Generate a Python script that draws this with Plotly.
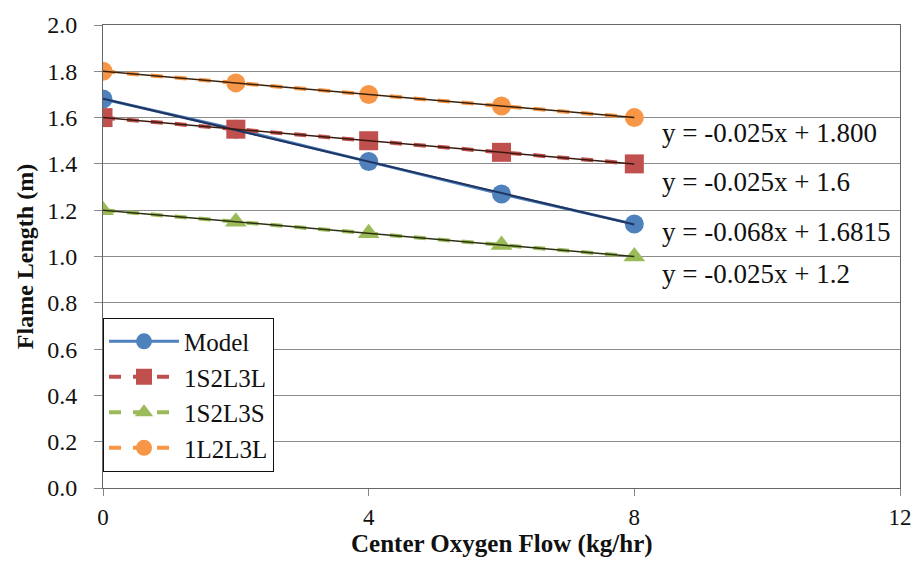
import numpy as np
import plotly.graph_objects as go

x_vals = [0, 2, 4, 6, 8]
model = [1.68, 1.55, 1.41, 1.27, 1.14]
s1S2L3L = [1.60, 1.55, 1.50, 1.45, 1.40]
s1S2L3S = [1.20, 1.15, 1.10, 1.05, 1.00]
s1L2L3L = [1.80, 1.75, 1.70, 1.65, 1.60]

series_names = ["Model", "1S2L3L", "1S2L3S", "1L2L3L"]
eq_labels = ["y = -0.025x + 1.800", "y = -0.025x + 1.6", "y = -0.068x + 1.6815", "y = -0.025x + 1.2"]
eq_y = [1.535, 1.32, 1.108, 0.925]
y_ticks = [0.0, 0.2, 0.4, 0.6, 0.8, 1.0, 1.2, 1.4, 1.6, 1.8, 2.0]
x_ticks = [0, 4, 8, 12]

FONT = "Liberation Serif"

fig = go.Figure()

styles = [
    (model, "#4F81BD", "circle", "solid", "#4F81BD", 3),
    (s1S2L3L, "#C0504D", "square", "dash", "#C0504D", 4),
    (s1S2L3S, "#9BBB59", "triangle-up", "dash", "#9BBB59", 4),
    (s1L2L3L, "#F79646", "circle", "dash", "#F79646", 4),
]

for name, (ys, mcol, sym, dash, lcol, lw) in zip(series_names, styles):
    fig.add_trace(go.Scatter(
        x=x_vals, y=ys, name=name, mode="lines+markers",
        line=dict(color=lcol, width=lw, dash=dash),
        marker=dict(symbol=sym, size=19, color=mcol),
    ))

# linear trendlines (dark) fitted from the data
trend_cols = ["#1F3460", "#3a1a10", "#2a3010", "#3a2008"]
for ys, tc in zip([model, s1S2L3L, s1S2L3S, s1L2L3L], trend_cols):
    k, b = np.polyfit(x_vals, ys, 1)
    xs = np.array([x_vals[0], x_vals[-1]])
    fig.add_trace(go.Scatter(
        x=xs, y=k * xs + b, mode="lines", showlegend=False, hoverinfo="skip",
        line=dict(color=tc, width=2 if tc == "#1F3460" else 1.5),
    ))

for lab, yy in zip(eq_labels, eq_y):
    fig.add_annotation(x=8.38, y=yy, text=lab, showarrow=False, xanchor="left",
                       yanchor="middle", font=dict(family=FONT, size=27, color="#111"))

# x-axis title placed close under the tick labels
fig.add_annotation(xref="paper", yref="paper", x=0.5, y=-0.122, xanchor="center", yanchor="middle",
                   text="<b>Center Oxygen Flow (kg/hr)</b>", showarrow=False,
                   font=dict(family=FONT, size=25, color="#111"))

fig.update_layout(
    width=924, height=567,
    margin=dict(l=103, r=17, t=19, b=79),
    paper_bgcolor="white", plot_bgcolor="white",
    font=dict(family=FONT, size=23, color="#111"),
    legend=dict(x=0.0, y=0.368, xanchor="left", yanchor="top",
                bgcolor="white", bordercolor="#111", borderwidth=1,
                font=dict(family=FONT, size=25), itemwidth=70,
                tracegroupgap=0),
    xaxis=dict(range=[0, 12], tickvals=x_ticks, showgrid=False, zeroline=False,
               showline=True, linecolor="#666", linewidth=1, mirror=True,
               ticks="outside", ticklen=7, tickcolor="#888", ticklabelstandoff=1,
               tickfont=dict(family=FONT, size=23)),
    yaxis=dict(range=[0, 2.0], tickvals=y_ticks, tickformat=".1f",
               showgrid=True, gridcolor="#8c8c8c", gridwidth=1, zeroline=False,
               showline=True, linecolor="#666", linewidth=1, mirror=True,
               ticks="outside", ticklen=8, tickcolor="#888", ticklabelstandoff=12,
               tickfont=dict(family=FONT, size=24),
               title=dict(text="<b>Flame Length (m)</b>", font=dict(family=FONT, size=24), standoff=6)),
)

fig.write_html("out.html")
